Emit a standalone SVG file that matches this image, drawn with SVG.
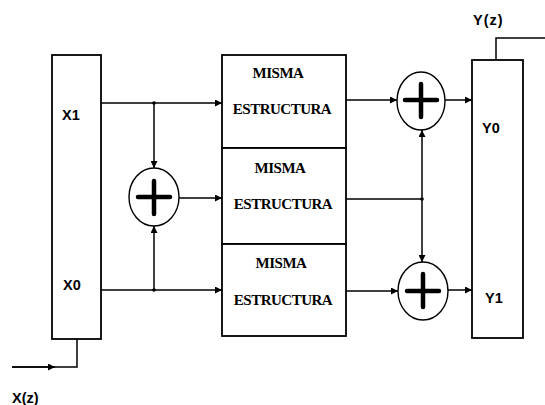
<svg xmlns="http://www.w3.org/2000/svg" width="545" height="405" viewBox="0 0 545 405">
  <style>
    .box { fill: #fff; stroke: #000; stroke-width: 1.8; }
    .sum { fill: #fff; stroke: #000; stroke-width: 1.4; }
    .plus { stroke: #000; stroke-width: 4.5; stroke-linecap: round; fill: none; }
    .wire { stroke: #000; stroke-width: 1.5; fill: none; }
    .lbl { font-family: "Liberation Sans", Arial, sans-serif; font-weight: bold; font-size: 14.5px; fill: #000; }
    .blk { font-family: "Liberation Serif", "Times New Roman", serif; font-weight: bold; font-size: 15px; fill: #000; text-anchor: middle; letter-spacing: -0.5px; }
  </style>
  <defs>
    <marker id="arr" viewBox="0 0 10 10" refX="10" refY="5" markerWidth="7" markerHeight="7" markerUnits="userSpaceOnUse" orient="auto">
      <path d="M0,0 L10,5 L0,10 z" fill="#000"/>
    </marker>
  </defs>
  <rect width="545" height="405" fill="#fff"/>

  <!-- connectors -->
  <g id="connectors">
    <!-- X(z) input into left block -->
    <path class="wire" d="M12,367 H77 V339"/>
    <path class="wire" d="M12,367 H55" marker-end="url(#arr)"/>
    <!-- X1 branch -->
    <path class="wire" d="M101,103 H222" marker-end="url(#arr)"/>
    <path class="wire" d="M154,103 V168" marker-end="url(#arr)"/>
    <!-- X0 branch -->
    <path class="wire" d="M101,290 H222" marker-end="url(#arr)"/>
    <path class="wire" d="M154,290 V226" marker-end="url(#arr)"/>
    <!-- left adder into middle block -->
    <path class="wire" d="M179,198 H222" marker-end="url(#arr)"/>
    <!-- block outputs -->
    <path class="wire" d="M346,100 H397" marker-end="url(#arr)"/>
    <path class="wire" d="M346,199 H422"/>
    <path class="wire" d="M422,199 V130" marker-end="url(#arr)"/>
    <path class="wire" d="M422,199 V262" marker-end="url(#arr)"/>
    <path class="wire" d="M346,291 H398" marker-end="url(#arr)"/>
    <!-- adders into right block -->
    <path class="wire" d="M445,100 H472" marker-end="url(#arr)"/>
    <path class="wire" d="M446,290 H472" marker-end="url(#arr)"/>
    <!-- Y(z) output -->
    <path class="wire" d="M496,60 V38 H545"/>
    <!-- junction dots -->
    <circle cx="154" cy="103" r="1.8" fill="#000"/>
    <circle cx="154" cy="290" r="1.8" fill="#000"/>
    <circle cx="422" cy="199" r="1.8" fill="#000"/>
  </g>

  <!-- left block -->
  <g id="xblock">
    <rect class="box" x="52" y="55" width="49" height="284"/>
    <text class="lbl" x="62" y="120">X1</text>
    <text class="lbl" x="63" y="290">X0</text>
  </g>

  <!-- middle blocks -->
  <g id="block-top">
    <rect class="box" x="222" y="55" width="124" height="93"/>
    <text class="blk" x="278" y="78">MISMA</text>
    <text class="blk" x="282" y="114">ESTRUCTURA</text>
  </g>
  <g id="block-mid">
    <rect class="box" x="222" y="148" width="124" height="96"/>
    <text class="blk" x="280" y="173">MISMA</text>
    <text class="blk" x="283" y="209">ESTRUCTURA</text>
  </g>
  <g id="block-bot">
    <rect class="box" x="222" y="244" width="124" height="92"/>
    <text class="blk" x="281" y="268">MISMA</text>
    <text class="blk" x="283" y="305">ESTRUCTURA</text>
  </g>

  <!-- adders -->
  <g id="sum-left">
    <ellipse class="sum" cx="154" cy="197" rx="25" ry="29"/>
    <path class="plus" d="M138,197 H170 M154,181 V214"/>
  </g>
  <g id="sum-top">
    <ellipse class="sum" cx="421" cy="101" rx="24" ry="29"/>
    <path class="plus" d="M405,100 H437 M421,84 V117"/>
  </g>
  <g id="sum-bot">
    <ellipse class="sum" cx="423" cy="291" rx="25" ry="29"/>
    <path class="plus" d="M407,291 H439 M423,274 V307"/>
  </g>

  <!-- right block -->
  <g id="yblock">
    <rect class="box" x="472" y="60" width="51" height="278"/>
    <text class="lbl" x="482" y="133">Y0</text>
    <text class="lbl" x="485" y="303">Y1</text>
  </g>

  <!-- signal names -->
  <g id="io">
    <text class="lbl" x="473" y="25" letter-spacing="1">Y(z)</text>
    <text class="lbl" x="12" y="403">X(z)</text>
  </g>
</svg>
